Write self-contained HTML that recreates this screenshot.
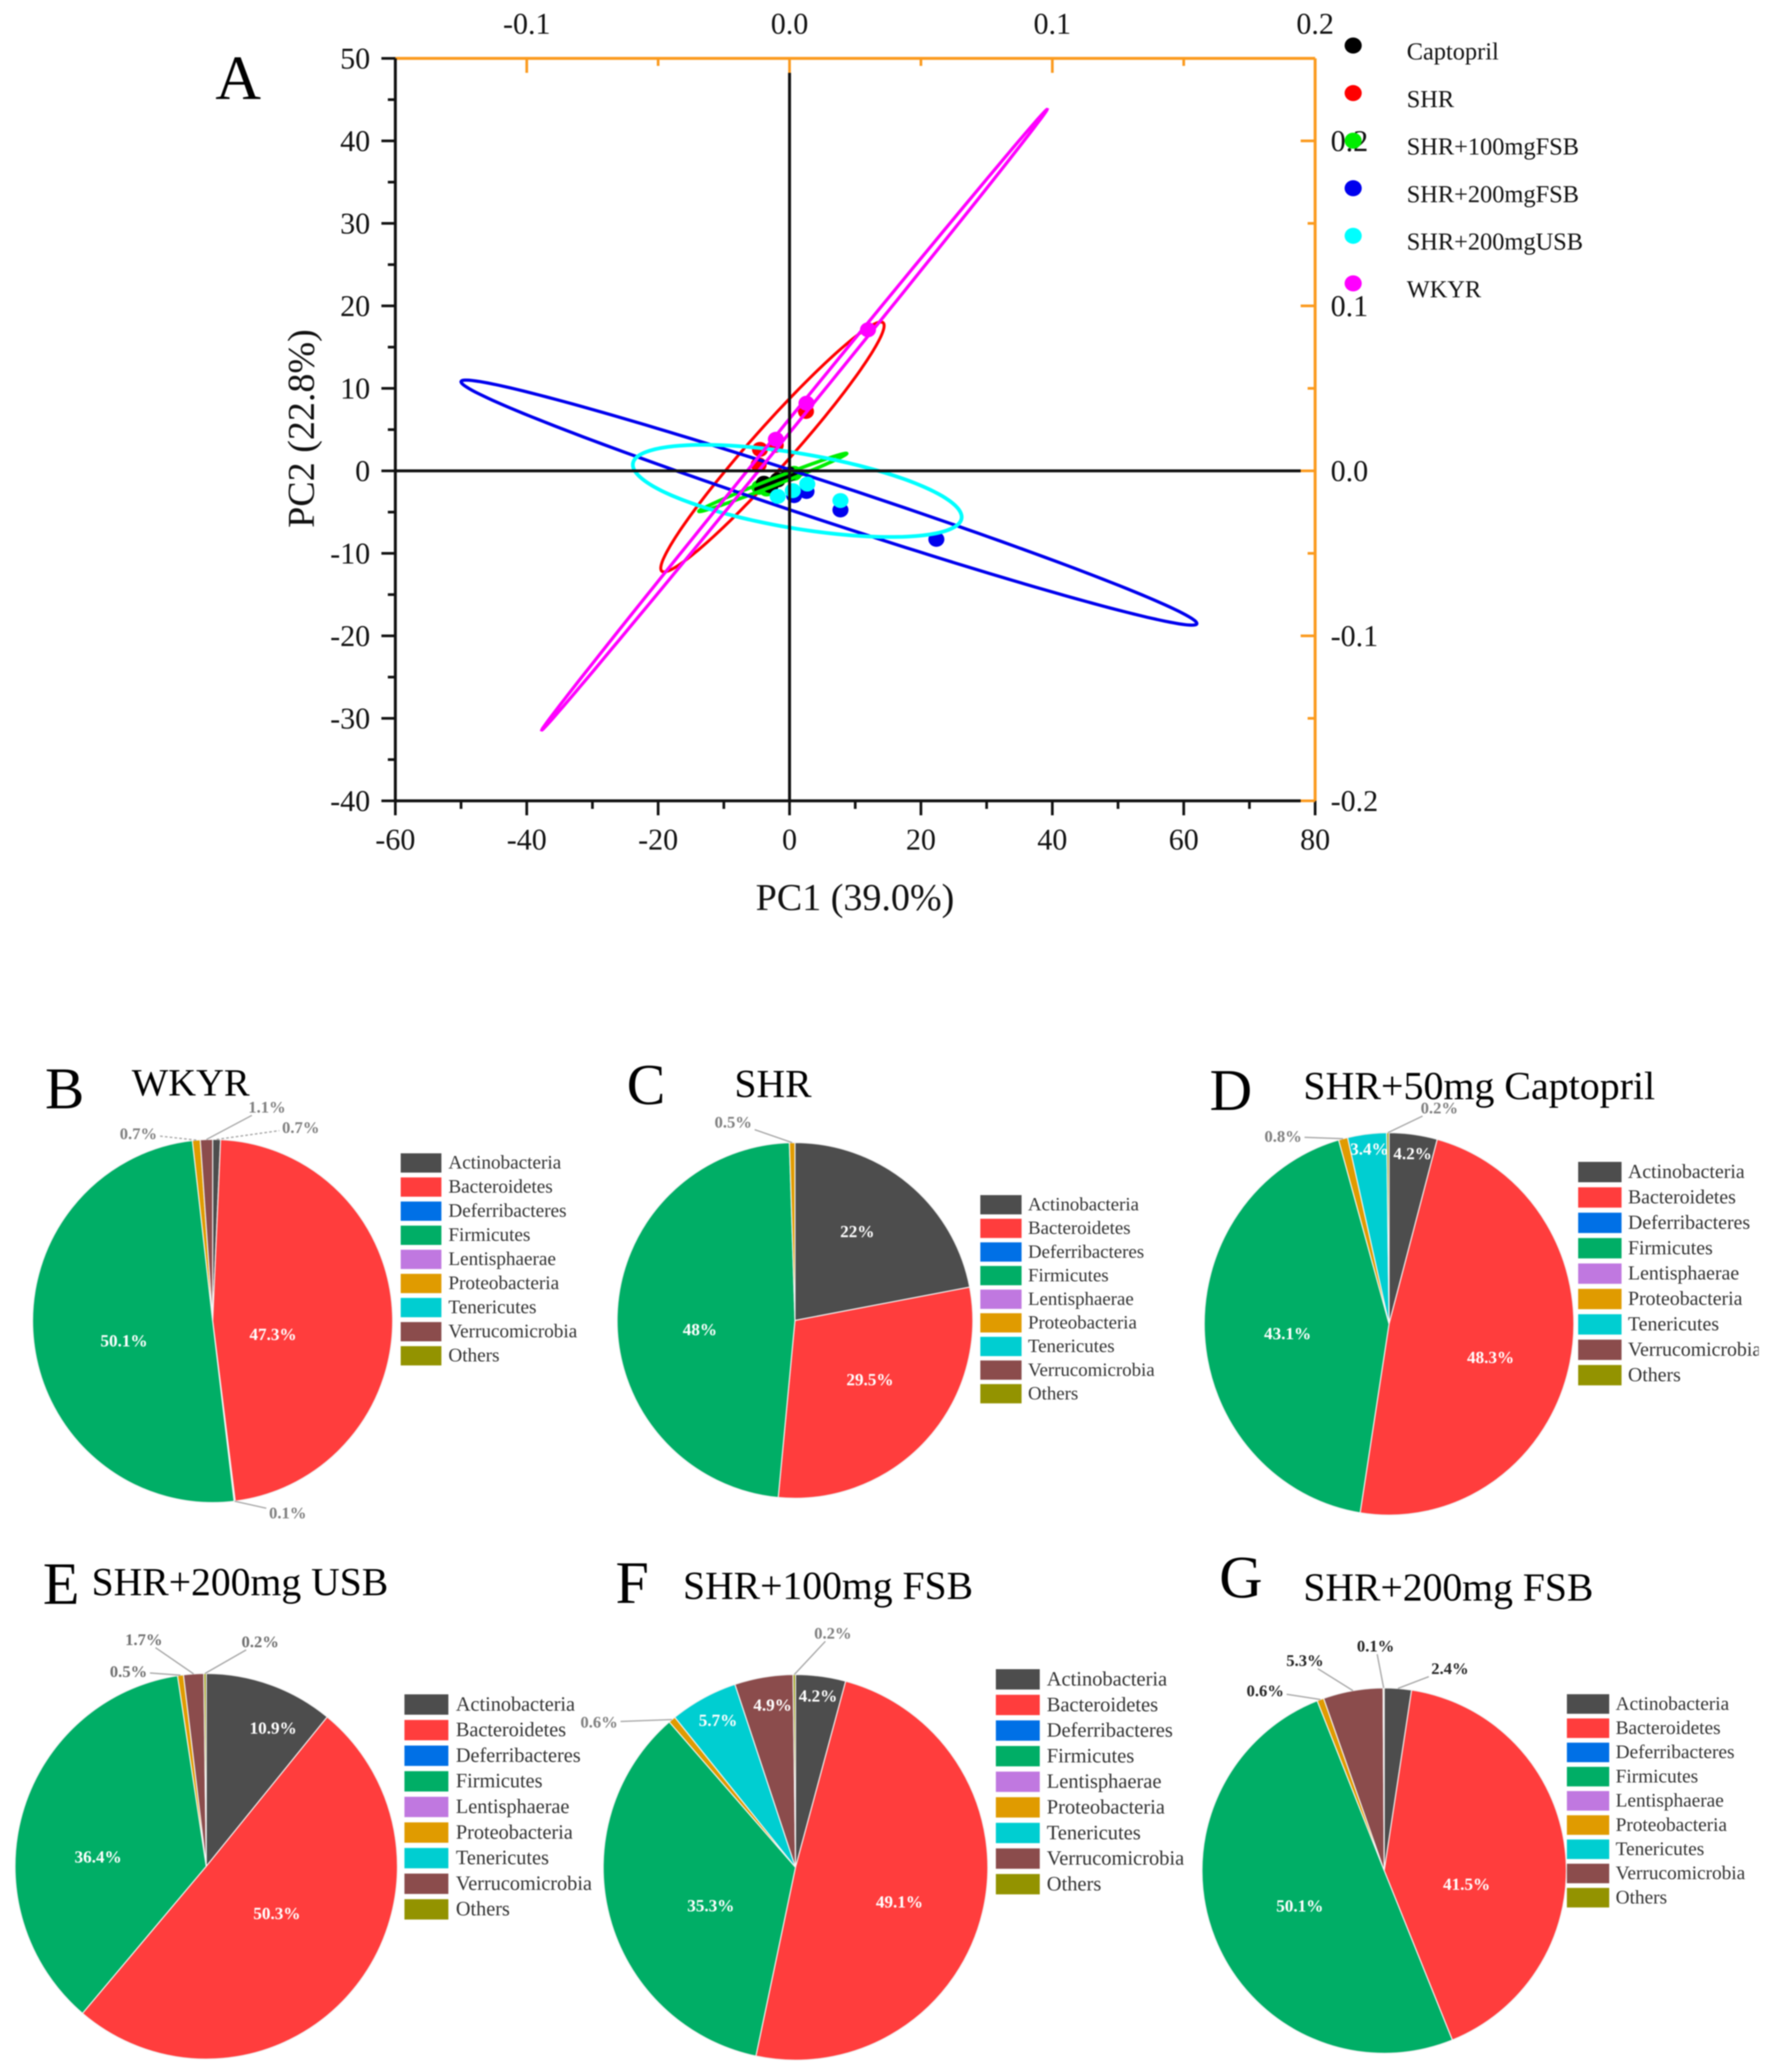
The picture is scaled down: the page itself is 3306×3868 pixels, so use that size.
<!DOCTYPE html>
<html lang="en">
<head>
<meta charset="utf-8">
<title>PCA score plot and phylum composition pie charts</title>
<style>
html,body{margin:0;padding:0;background:#fff;}
svg{display:block;font-family:"Liberation Serif",serif;filter:blur(1px);}
</style>
</head>
<body>
<svg id="figure" xmlns="http://www.w3.org/2000/svg" width="3306" height="3868" viewBox="0 0 3306 3868">
  <defs>
    <clipPath id="clip-d-legend"><rect x="2900" y="2100" width="383" height="600"/></clipPath>
    <clipPath id="clip-pca-legend"><rect x="2600" y="40" width="355" height="540"/></clipPath>
  </defs>
  <rect width="3306" height="3868" fill="#fff"/>

  <g id="pca"></g>
  <text x="402" y="185" font-size="118" fill="#000">A</text>
  <text x="1596" y="1699" font-size="71" text-anchor="middle" fill="#111">PC1 (39.0%)</text>
  <text transform="translate(586 800) rotate(-90)" font-size="71" text-anchor="middle" fill="#111">PC2 (22.8%)</text>

  <g id="pies"></g>

  <text x="84" y="2069" font-size="110" fill="#000">B</text>
  <text x="1170" y="2061" font-size="108" fill="#000">C</text>
  <text x="2258" y="2072" font-size="110" fill="#000">D</text>
  <text x="80" y="2994" font-size="112" fill="#000">E</text>
  <text x="1149" y="2992" font-size="112" fill="#000">F</text>
  <text x="2276" y="2982" font-size="112" fill="#000">G</text>

  <text x="246" y="2045" font-size="72" fill="#000">WKYR</text>
  <text x="1371" y="2048" font-size="74" fill="#000">SHR</text>
  <text x="2433" y="2052" font-size="74.5" fill="#000">SHR+50mg Captopril</text>
  <text x="171" y="2978" font-size="74" fill="#000">SHR+200mg USB</text>
  <text x="1275" y="2985" font-size="74" fill="#000">SHR+100mg FSB</text>
  <text x="2433" y="2988" font-size="74" fill="#000">SHR+200mg FSB</text>
</svg>

<script>
/* ---------- PCA data (values in axis units) ---------- */
const groupNames = ['Captopril','SHR','SHR+100mgFSB','SHR+200mgFSB','SHR+200mgUSB','WKYR'];
const xTicks = [-60,-40,-20,0,20,40,60,80];
const yTicks = [-40,-30,-20,-10,0,10,20,30,40,50];
const topTicks = ['-0.1','0.0','0.1','0.2'];
const rightTicks = ['-0.2','-0.1','0.0','0.1','0.2'];

const captoprilPC1 = [-3.9,-2.9,-1.8,0.0];
const captoprilPC2 = [-1.5,-1.8,-1.1,-0.4];
const shrPC1 = [2.5,-4.5,-4.7,-2.1];
const shrPC2 = [7.2,2.6,0.74,3.1];
const fsb100PC1 = [-4.6,-3.5,0.7];
const fsb100PC2 = [-2.0,-2.2,-0.3];
const fsb200PC1 = [22.35,7.75,2.58,0.7];
const fsb200PC2 = [-8.3,-4.74,-2.5,-3.0];
const usb200PC1 = [7.75,2.7,0.5,-1.8];
const usb200PC2 = [-3.6,-1.6,-2.4,-3.1];
const wkyrPC1 = [11.94,2.58,-2.08];
const wkyrPC2 = [17.1,8.2,3.83];

/* confidence ellipses: two tips of the long axis + vertical half-height */
const captoprilEllipse = [-5.1,-2.25,0.5,-0.3,0.5];
const shrEllipse = [-19.6,-11.8,14.4,17.6,3.65];
const fsb100Ellipse = [-13.8,-4.9,8.7,2.1,0.45];
const fsb200Ellipse = [-50,10.8,62,-18.5,2.44];
const usb200Ellipse = [-23.85,0.74,26.2,-5.6,4.6];
const wkyrEllipse = [-37.7,-31.4,39.2,43.8,0.85];

/* ---------- Pie data (percent, clockwise from 12 o'clock) ---------- */
const phyla = ['Actinobacteria','Bacteroidetes','Deferribacteres','Firmicutes','Lentisphaerae','Proteobacteria','Tenericutes','Verrucomicrobia','Others'];
const wkyrShares = [0.7,47.3,0.1,50.1,0,0.7,0,1.1,0];
const shrShares = [22,29.5,0,48,0,0.5,0,0,0];
const captoprilShares = [4.2,48.3,0,43.1,0,0.8,3.4,0,0.2];
const usb200Shares = [10.9,50.3,0,36.4,0,0.5,0,1.7,0.2];
const fsb100Shares = [4.2,49.1,0,35.3,0,0.6,5.7,4.9,0.2];
const fsb200Shares = [2.4,41.5,0,50.1,0,0.6,0,5.3,0.1];

/* ---------- Styling and layout (not data) ---------- */
const groupColors = ['#000000','#ff0000','#00ee00','#0000ee','#00ffff','#ff00ff'];
const phylumColors = ['#4d4d4d','#ff3d3d','#0070e6','#00ae66','#c078e0','#e09b00','#00ced1','#8b4c4c','#939300'];
const PLOT = {left:738,right:2455,top:109,bottom:1495,lineEnd:2428};
const PIE_LAYOUT = [
  {key:'wkyr',cx:397,cy:2466,rx:336,ry:339,lx:748,lw:76,lh:36,ly:2171,lp:45,tx:837,fs:35.8,outer:'#808080',
   tweak:{0:[157,-22,1,1],1:[-72,33,0],2:[99,22,1],3:[18,16,0],5:[-108,-12,1,1],7:[113,-60,1]}},
  {key:'shr',cx:1484,cy:2465,rx:332,ry:332,lx:1830,lw:77,lh:36,ly:2249,lp:44.1,tx:1919,fs:35.2,outer:'#808080',
   tweak:{0:[0,-25,0],1:[5,-12,0],3:[5,23,0],5:[-110,-38,1]}},
  {key:'captopril',cx:2593,cy:2471.5,rx:345,ry:357,lx:2946,lw:81,lh:38,ly:2188,lp:47.4,tx:3039,fs:37,outer:'#808080',clip:'clip-d-legend',
   tweak:{0:[19,-123,0],1:[4,22,0],3:[0,7,0],5:[-112,-4,1],6:[-14,-131,0],8:[96,-46,1]}},
  {key:'usb200',cx:385,cy:3484,rx:357,ry:360,lx:755,lw:82,lh:38,ly:3182,lp:47.8,tx:851,fs:37.8,outer:'#707070',
   tweak:{0:[59,-71,0],1:[-19,-38,0],3:[-13,37,0],5:[-97,-7,1],7:[-93,-64,1],8:[103,-59,1]}},
  {key:'fsb100',cx:1485,cy:3486,rx:359,ry:360,lx:1859,lw:82,lh:38,ly:3135,lp:47.8,tx:1954,fs:38.2,outer:'#808080',
   tweak:{0:[16,-123,0],1:[2,19,0],3:[33,22,0],5:[-136,5,1],6:[-50,-100,0],7:[-10,-107,0],8:[72,-77,1]}},
  {key:'fsb200',cx:2584,cy:3492,rx:340,ry:341,lx:2925,lw:79,lh:36.5,ly:3181,lp:45.2,tx:3016,fs:36,outer:'#262626',
   tweak:{0:[97,-37,1],1:[-32,48,0],3:[16,-3,0],5:[-103,-16,1],7:[-89.5,-56,1],8:[-15,-78,1]}}
];

/* ---------- Helpers ---------- */
const NS = 'http://www.w3.org/2000/svg';
function make(tag, parent, attrs, content) {
  const node = document.createElementNS(NS, tag);
  for (const k in attrs) node.setAttribute(k, attrs[k]);
  if (content !== undefined) node.textContent = content;
  parent.appendChild(node);
  return node;
}
function sx(v) { return PLOT.left + (v + 60) / 140 * (PLOT.right - PLOT.left); }
function sy(v) { return PLOT.bottom - (v + 40) / 90 * (PLOT.bottom - PLOT.top); }
function topX(v) { return sx(v * 400); }
function rightY(v) { return sy(v * 200); }

const pca = document.getElementById('pca');
const ORANGE = '#fb9a1e';

/* ---------- PCA ellipses ---------- */
function ellipsePath(e) {
  const cx = (e[0] + e[2]) / 2, cy = (e[1] + e[3]) / 2;
  const ax = (e[2] - e[0]) / 2, ay = (e[3] - e[1]) / 2;
  const pts = [];
  for (let i = 0; i < 180; i++) {
    const t = i / 180 * Math.PI * 2;
    const dx = cx + Math.cos(t) * ax;
    const dy = cy + Math.cos(t) * ay + Math.sin(t) * e[4];
    pts.push(sx(dx).toFixed(1) + ',' + sy(dy).toFixed(1));
  }
  return 'M' + pts.join('L') + 'Z';
}
function drawEllipse(values, colorIndex, width) {
  const ring = make('path', pca, {d: ellipsePath(values), fill: 'none', stroke: groupColors[colorIndex], 'stroke-width': width});
  
  
}
function drawPoints(xs, ys, colorIndex) {
  xs.forEach(function (x, i) {
    const dot = make('ellipse', pca, {cx: sx(x), cy: sy(ys[i]), rx: 15, ry: 14, fill: groupColors[colorIndex]});
    
    
  });
}

drawEllipse(shrEllipse, 1, 5.5);
drawPoints(shrPC1, shrPC2, 1);
drawPoints(fsb100PC1, fsb100PC2, 2);
drawEllipse(captoprilEllipse, 0, 7);
drawPoints(captoprilPC1, captoprilPC2, 0);
drawEllipse(fsb100Ellipse, 2, 6.5);
drawPoints(fsb200PC1, fsb200PC2, 3);
drawEllipse(fsb200Ellipse, 3, 6);
drawPoints(usb200PC1, usb200PC2, 4);
drawEllipse(usb200Ellipse, 4, 7);
drawEllipse(wkyrEllipse, 5, 6);
drawPoints(wkyrPC1, wkyrPC2, 5);

/* ---------- Axes ---------- */
function axisLine(x1, y1, x2, y2, color, w, name) {
  const ln = make('line', pca, {x1: x1, y1: y1, x2: x2, y2: y2, stroke: color, 'stroke-width': w});
  
  
}
axisLine(sx(0), 136, sx(0), PLOT.bottom, '#111', 5.5, 'zero-line-vertical');
axisLine(PLOT.left, sy(0), PLOT.lineEnd, sy(0), '#111', 5.5, 'zero-line-horizontal');
axisLine(PLOT.left, PLOT.top, PLOT.right, PLOT.top, ORANGE, 5.5, 'top-axis-line');
axisLine(PLOT.right, PLOT.top, PLOT.right, PLOT.bottom, ORANGE, 5.5, 'right-axis-line');
axisLine(PLOT.left, PLOT.top, PLOT.left, PLOT.bottom, '#111', 5.5, 'left-axis-line');
axisLine(PLOT.left, PLOT.bottom, PLOT.lineEnd, PLOT.bottom, '#111', 5.5, 'bottom-axis-line');

xTicks.forEach(function (v, i) {
  axisLine(sx(v), PLOT.bottom, sx(v), PLOT.bottom + 27, '#111', 5, 'x-tick');
  if (i < xTicks.length - 1) {
    const m = (v + xTicks[i + 1]) / 2;
    axisLine(sx(m), PLOT.bottom, sx(m), PLOT.bottom + 15, '#111', 5, 'x-minor-tick');
  }
  const lab = make('text', pca, {x: sx(v), y: 1586, 'font-size': 56, 'text-anchor': 'middle', fill: '#111'}, String(v));
  
  
});
yTicks.forEach(function (v, i) {
  axisLine(PLOT.left - 26, sy(v), PLOT.left, sy(v), '#111', 5, 'y-tick');
  if (i < yTicks.length - 1) {
    const m = (v + yTicks[i + 1]) / 2;
    axisLine(PLOT.left - 14, sy(m), PLOT.left, sy(m), '#111', 5, 'y-minor-tick');
  }
  const lab = make('text', pca, {x: 691, y: sy(v) + 19, 'font-size': 56, 'text-anchor': 'end', fill: '#111'}, String(v));
  
  
});
topTicks.forEach(function (t, i) {
  const v = parseFloat(t);
  axisLine(topX(v), PLOT.top, topX(v), PLOT.top + 27, ORANGE, 5, 'top-tick');
  if (i < topTicks.length - 1) {
    axisLine(topX(v + 0.05), PLOT.top, topX(v + 0.05), PLOT.top + 14, ORANGE, 5, 'top-minor-tick');
  }
  const lab = make('text', pca, {x: topX(v), y: 63, 'font-size': 56, 'text-anchor': 'middle', fill: '#111'}, t);
  
  
});
rightTicks.forEach(function (t, i) {
  const v = parseFloat(t);
  axisLine(PLOT.right - 27, rightY(v), PLOT.right, rightY(v), ORANGE, 5, 'right-tick');
  if (i < rightTicks.length - 1) {
    axisLine(PLOT.right - 14, rightY(v + 0.05), PLOT.right, rightY(v + 0.05), ORANGE, 5, 'right-minor-tick');
  }
  const lab = make('text', pca, {x: 2484, y: rightY(v) + 19, 'font-size': 56, fill: '#111'}, t);
  
  
});

/* ---------- PCA legend ---------- */
const pcaLegend = make('g', pca, {});


groupNames.forEach(function (name, i) {
  const y = 85 + i * 88.8;
  const marker = make('ellipse', pcaLegend, {cx: 2526, cy: y, rx: 16, ry: 15, fill: groupColors[i]});
  
  
  const label = make('text', pcaLegend, {x: 2626, y: y + 26, 'font-size': 45.5, fill: '#111', 'clip-path': 'url(#clip-pca-legend)'}, name);
  
  
});

/* ---------- Pies ---------- */
const shareTable = {
  wkyr: wkyrShares, shr: shrShares, captopril: captoprilShares,
  usb200: usb200Shares, fsb100: fsb100Shares, fsb200: fsb200Shares
};
const piesRoot = document.getElementById('pies');

function piePoint(p, pct, f) {
  const a = pct / 100 * Math.PI * 2;
  return {x: p.cx + f * p.rx * Math.sin(a), y: p.cy - f * p.ry * Math.cos(a)};
}

PIE_LAYOUT.forEach(function (p) {
  const shares = shareTable[p.key];
  const group = make('g', piesRoot, {});
  
  

  let run = 0;
  const total = shares.reduce(function (s, v) { return s + v; }, 0);
  const mids = [];
  shares.forEach(function (v, i) {
    const share = v / total * 100;
    mids.push(run + share / 2);
    if (v > 0) {
      const a = piePoint(p, run, 1), b = piePoint(p, run + share, 1);
      const big = share > 50 ? 1 : 0;
      const d = 'M' + p.cx + ' ' + p.cy + 'L' + a.x.toFixed(2) + ' ' + a.y.toFixed(2) +
        'A' + p.rx + ' ' + p.ry + ' 0 ' + big + ' 1 ' + b.x.toFixed(2) + ' ' + b.y.toFixed(2) + 'Z';
      const slice = make('path', group, {d: d, fill: phylumColors[i], stroke: '#f4f4f4', 'stroke-width': 2});
      
      
    }
    run += share;
  });

  shares.forEach(function (v, i) {
    const tw = p.tweak[i];
    if (!tw) return;
    const outside = tw[2] === 1;
    const base = piePoint(p, mids[i], outside ? 1 : 0.55);
    const tx = base.x + tw[0], ty = base.y + tw[1];
    if (outside) {
      const ddx = base.x - tx, ddy = base.y - ty;
      const k = Math.min(40 / Math.abs(ddx || 1), 15 / Math.abs(ddy || 1));
      const leader = make('line', group, {
        x1: base.x, y1: base.y, x2: tx + ddx * k, y2: ty + ddy * k,
        stroke: '#a8a8a8', 'stroke-width': 2.5
      });
      if (tw[3]) leader.setAttribute('stroke-dasharray', '5 4');
      
      
    }
    const lab = make('text', group, {
      x: tx, y: ty + 10, 'font-size': outside ? 31 : 32, 'font-weight': 'bold',
      'text-anchor': 'middle', fill: outside ? p.outer : '#ffffff'
    }, v + '%');
    
    
  });

  const legend = make('g', group, {});
  
  
  phyla.forEach(function (name, i) {
    const y = p.ly + i * p.lp;
    const swatch = make('rect', legend, {x: p.lx, y: y - p.lh / 2, width: p.lw, height: p.lh, fill: phylumColors[i]});
    
    
    const attrs = {x: p.tx, y: y + p.fs * 0.3, 'font-size': p.fs, fill: '#333333'};
    if (p.clip) attrs['clip-path'] = 'url(#' + p.clip + ')';
    const label = make('text', legend, attrs, name);
    
    
  });
});
</script>
</body>
</html>
